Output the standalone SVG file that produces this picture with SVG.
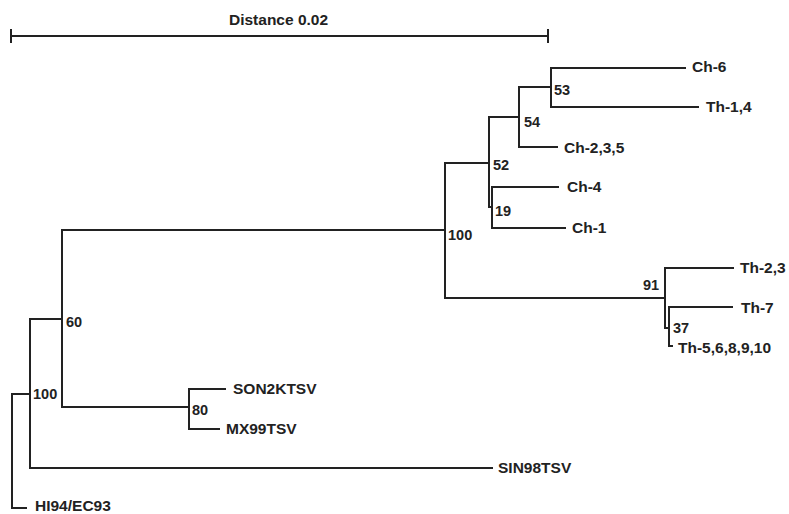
<svg xmlns="http://www.w3.org/2000/svg" width="789" height="514" viewBox="0 0 789 514">
<style>
.ln{fill:none;stroke:#222;stroke-width:2;stroke-linecap:square;stroke-linejoin:miter}
.t{font-family:"Liberation Sans",Arial,sans-serif;font-weight:bold;font-size:15.5px;fill:#222}
.b{font-family:"Liberation Sans",Arial,sans-serif;font-weight:bold;font-size:14.5px;fill:#222}
</style>
<rect width="789" height="514" fill="#fff"/>
<g id="scale">
<path class="ln" d="M11,36 H548 M11,30 V42 M548,30 V42"/>
<text class="t" x="229" y="25">Distance 0.02</text>
</g>
<g id="connectors">
<path class="ln" d="M26,508 H12 V394 H30"/>
<path class="ln" d="M62,319 H30 V468 H492"/>
<path class="ln" d="M445,230 H62 V407 H189"/>
<path class="ln" d="M225,389 H189 V429 H219"/>
<path class="ln" d="M489,163 H445 V298 H665"/>
<path class="ln" d="M519,117 H489 V207 H492"/>
<path class="ln" d="M551,87 H519 V147 H557"/>
<path class="ln" d="M685,68 H551 V107 H698"/>
<path class="ln" d="M558,187 H492 V228 H565"/>
<path class="ln" d="M733,268 H665 V328 H669"/>
<path class="ln" d="M732,307 H669 V346 H672"/>
</g>
<g id="leaf-ch6"><text class="t" x="692" y="72">Ch-6</text></g>
<g id="leaf-th14"><text class="t" x="706" y="112">Th-1,4</text></g>
<g id="leaf-ch235"><text class="t" x="564" y="153">Ch-2,3,5</text></g>
<g id="leaf-ch4"><text class="t" x="567" y="192">Ch-4</text></g>
<g id="leaf-ch1"><text class="t" x="572" y="233">Ch-1</text></g>
<g id="leaf-th23"><text class="t" x="740" y="273">Th-2,3</text></g>
<g id="leaf-th7"><text class="t" x="741" y="313">Th-7</text></g>
<g id="leaf-th5"><text class="t" x="678" y="353">Th-5,6,8,9,10</text></g>
<g id="leaf-son2k"><text class="t" x="233" y="394">SON2KTSV</text></g>
<g id="leaf-mx99"><text class="t" x="226" y="434">MX99TSV</text></g>
<g id="leaf-sin98"><text class="t" x="498" y="473">SIN98TSV</text></g>
<g id="leaf-hi94"><text class="t" x="35" y="511">HI94/EC93</text></g>
<g id="node-53"><text class="b" x="554" y="95">53</text></g>
<g id="node-54"><text class="b" x="524" y="127">54</text></g>
<g id="node-52"><text class="b" x="493" y="170">52</text></g>
<g id="node-19"><text class="b" x="495" y="216">19</text></g>
<g id="node-100b"><text class="b" x="448" y="240">100</text></g>
<g id="node-91"><text class="b" x="643" y="290">91</text></g>
<g id="node-37"><text class="b" x="673" y="333">37</text></g>
<g id="node-60"><text class="b" x="66" y="327">60</text></g>
<g id="node-100a"><text class="b" x="33" y="399">100</text></g>
<g id="node-80"><text class="b" x="192" y="415">80</text></g>
</svg>
